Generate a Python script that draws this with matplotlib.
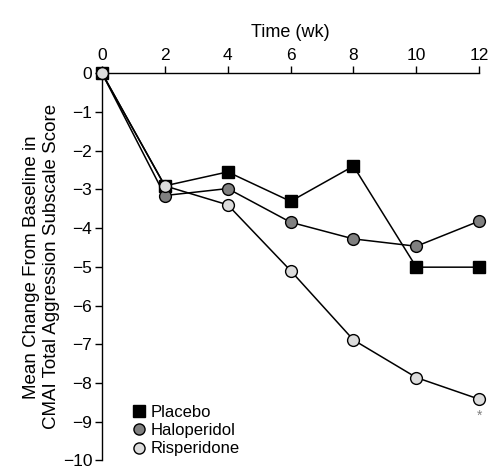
import matplotlib.pyplot as plt
from matplotlib.lines import Line2D

plt.rcParams['font.family'] = ['Liberation Sans', 'DejaVu Sans']

weeks = [0, 2, 4, 6, 8, 10, 12]
placebo = [0, -2.91, -2.55, -3.31, -2.40, -5.01, -5.01]
haloperidol = [0, -3.16, -2.98, -3.85, -4.28, -4.47, -3.82]
risperidone = [0, -2.91, -3.40, -5.10, -6.89, -7.86, -8.42]

x_ticks = [0, 2, 4, 6, 8, 10, 12]
y_ticks = [0, -1, -2, -3, -4, -5, -6, -7, -8, -9, -10]
y_labels = ['0', '\u22121', '\u22122', '\u22123', '\u22124', '\u22125',
            '\u22126', '\u22127', '\u22128', '\u22129', '\u221210']

fig = plt.figure(figsize=(4.88, 4.66), dpi=100)
ax = fig.add_axes([0.209, 0.012, 0.773, 0.831])

ax.plot(weeks, placebo, color='black', lw=1.1, marker='s', ms=8.5,
        mfc='black', mec='black', clip_on=False, zorder=3)
ax.plot(weeks, haloperidol, color='black', lw=1.1, marker='o', ms=8.5,
        mfc='#808080', mec='black', mew=1.0, clip_on=False, zorder=4)
ax.plot(weeks, risperidone, color='black', lw=1.1, marker='o', ms=8.5,
        mfc='#dcdcdc', mec='black', mew=1.0, clip_on=False, zorder=5)

# significance mark under last risperidone point
ax.text(12, -8.85, '*', ha='center', va='center', fontsize=10, color='#808080')

ax.set_xlim(0, 12)
ax.set_ylim(-10, 0)
ax.xaxis.tick_top()
ax.xaxis.set_label_position('top')
ax.set_xticks(x_ticks)
ax.set_yticks(y_ticks)
ax.set_yticklabels(y_labels)
ax.tick_params(direction='out', length=5, width=1.0, labelsize=12.5, pad=2)
ax.spines['bottom'].set_visible(False)
ax.spines['right'].set_visible(False)
ax.spines['left'].set_linewidth(1.0)
ax.spines['top'].set_linewidth(1.0)

ax.set_xlabel('Time (wk)', fontsize=13, labelpad=8)
ax.set_ylabel('Mean Change From Baseline in\nCMAI Total Aggression Subscale Score',
              fontsize=13.5, labelpad=2)

handles = [
    Line2D([], [], ls='none', marker='s', ms=8, mfc='black', mec='black'),
    Line2D([], [], ls='none', marker='o', ms=8, mfc='#808080', mec='black'),
    Line2D([], [], ls='none', marker='o', ms=8, mfc='#dcdcdc', mec='black'),
]
ax.legend(handles, ['Placebo', 'Haloperidol', 'Risperidone'], loc='lower left',
          bbox_to_anchor=(0.05, -0.02), frameon=False, fontsize=12,
          handlelength=0.8, handletextpad=0.3, labelspacing=0.2, borderpad=0.2)

fig.savefig('out.png', dpi=100)
